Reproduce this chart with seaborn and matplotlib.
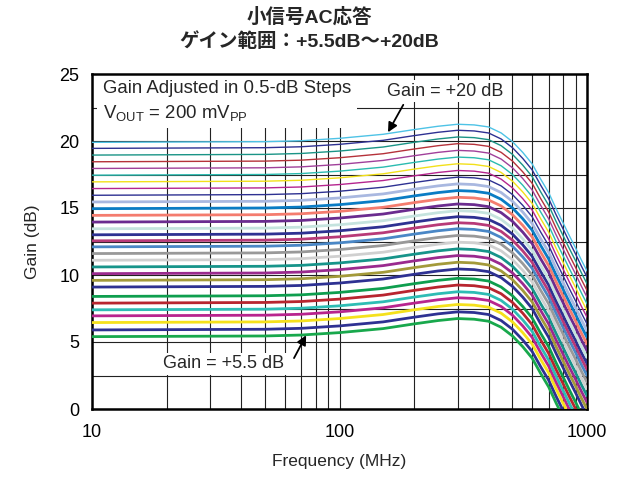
import matplotlib
matplotlib.use("Agg")
import matplotlib.pyplot as plt
import matplotlib.ticker as mticker
from matplotlib.patches import Rectangle
import seaborn as sns
import pandas as pd

# ---------------- data ----------------
freq_mhz = [10, 50, 70, 100, 150, 200, 250, 300, 350, 400, 450, 500, 550, 600,
            650, 700, 750, 800, 850, 900, 950, 1000]

g20_0 = [19.9, 19.95, 20.02, 20.2, 20.5, 20.85, 21.1, 21.25, 21.2, 21.05, 20.6, 19.95, 19.15, 18.3, 17.15, 16.15, 14.95, 13.9, 12.9, 12.0, 11.1, 10.3]
g19_5 = [19.45, 19.5, 19.57, 19.75, 20.05, 20.4, 20.65, 20.8, 20.75, 20.6, 20.15, 19.5, 18.7, 17.85, 16.7, 15.7, 14.5, 13.45, 12.45, 11.55, 10.65, 9.85]
g19_0 = [18.95, 19.0, 19.07, 19.25, 19.55, 19.9, 20.15, 20.3, 20.25, 20.1, 19.65, 19.0, 18.2, 17.35, 16.2, 15.2, 14.0, 12.95, 11.95, 11.05, 10.15, 9.35]
g18_5 = [18.45, 18.5, 18.57, 18.75, 19.05, 19.4, 19.65, 19.8, 19.75, 19.6, 19.15, 18.5, 17.7, 16.85, 15.7, 14.7, 13.5, 12.45, 11.45, 10.55, 9.65, 8.85]
g18_0 = [17.95, 18.0, 18.07, 18.25, 18.55, 18.9, 19.15, 19.3, 19.25, 19.1, 18.65, 18.0, 17.2, 16.35, 15.2, 14.2, 13.0, 11.95, 10.95, 10.05, 9.15, 8.35]
g17_5 = [17.45, 17.5, 17.57, 17.75, 18.05, 18.4, 18.65, 18.8, 18.75, 18.6, 18.15, 17.5, 16.7, 15.85, 14.7, 13.7, 12.5, 11.45, 10.45, 9.55, 8.65, 7.85]
g17_0 = [16.95, 17.0, 17.07, 17.25, 17.55, 17.9, 18.15, 18.3, 18.25, 18.1, 17.65, 17.0, 16.2, 15.35, 14.2, 13.2, 12.0, 10.95, 9.95, 9.05, 8.15, 7.35]
g16_5 = [16.45, 16.5, 16.57, 16.75, 17.05, 17.4, 17.65, 17.8, 17.75, 17.6, 17.15, 16.5, 15.7, 14.85, 13.7, 12.7, 11.5, 10.45, 9.45, 8.55, 7.65, 6.85]
g16_0 = [15.95, 16.0, 16.07, 16.25, 16.55, 16.9, 17.15, 17.3, 17.25, 17.1, 16.65, 16.0, 15.2, 14.35, 13.2, 12.2, 11.0, 9.95, 8.95, 8.05, 7.15, 6.35]
g15_5 = [15.45, 15.5, 15.57, 15.75, 16.05, 16.4, 16.65, 16.8, 16.75, 16.6, 16.15, 15.5, 14.7, 13.85, 12.7, 11.7, 10.5, 9.45, 8.45, 7.55, 6.65, 5.85]
g15_0 = [14.95, 15.0, 15.07, 15.25, 15.55, 15.9, 16.15, 16.3, 16.25, 16.1, 15.65, 15.0, 14.2, 13.35, 12.2, 11.2, 10.0, 8.95, 7.95, 7.05, 6.15, 5.35]
g14_5 = [14.45, 14.5, 14.57, 14.75, 15.05, 15.4, 15.65, 15.8, 15.75, 15.6, 15.15, 14.5, 13.7, 12.85, 11.7, 10.7, 9.5, 8.45, 7.45, 6.55, 5.65, 4.85]
g14_0 = [13.95, 14.0, 14.07, 14.25, 14.55, 14.9, 15.15, 15.3, 15.25, 15.1, 14.65, 14.0, 13.2, 12.35, 11.2, 10.2, 9.0, 7.95, 6.95, 6.05, 5.15, 4.35]
g13_5 = [13.45, 13.5, 13.57, 13.75, 14.05, 14.4, 14.65, 14.8, 14.75, 14.6, 14.15, 13.5, 12.7, 11.85, 10.7, 9.7, 8.5, 7.45, 6.45, 5.55, 4.65, 3.85]
g13_0 = [13.0, 13.05, 13.12, 13.3, 13.6, 13.95, 14.2, 14.35, 14.3, 14.15, 13.7, 13.05, 12.25, 11.4, 10.25, 9.25, 8.05, 7.0, 6.0, 5.1, 4.2, 3.4]
g12_5 = [12.55, 12.6, 12.67, 12.85, 13.15, 13.5, 13.75, 13.9, 13.85, 13.7, 13.25, 12.6, 11.8, 10.95, 9.8, 8.8, 7.6, 6.55, 5.55, 4.65, 3.75, 2.95]
g12_0 = [12.1, 12.15, 12.22, 12.4, 12.7, 13.05, 13.3, 13.45, 13.4, 13.25, 12.8, 12.15, 11.35, 10.5, 9.35, 8.35, 7.15, 6.1, 5.1, 4.2, 3.3, 2.5]
g11_5 = [11.6, 11.65, 11.72, 11.9, 12.2, 12.55, 12.8, 12.95, 12.9, 12.75, 12.3, 11.65, 10.85, 10.0, 8.85, 7.85, 6.65, 5.6, 4.6, 3.7, 2.8, 2.0]
g11_0 = [11.1, 11.15, 11.22, 11.4, 11.7, 12.05, 12.3, 12.45, 12.4, 12.25, 11.8, 11.15, 10.35, 9.5, 8.35, 7.35, 6.15, 5.1, 4.1, 3.2, 2.3, 1.5]
g10_5 = [10.6, 10.65, 10.72, 10.9, 11.2, 11.55, 11.8, 11.95, 11.9, 11.75, 11.3, 10.65, 9.85, 9.0, 7.85, 6.85, 5.65, 4.6, 3.6, 2.7, 1.8, 1.0]
g10_0 = [10.1, 10.15, 10.22, 10.4, 10.7, 11.05, 11.3, 11.45, 11.4, 11.25, 10.8, 10.15, 9.35, 8.5, 7.35, 6.35, 5.15, 4.1, 3.1, 2.2, 1.3, 0.5]
g9_5 = [9.6, 9.65, 9.72, 9.9, 10.2, 10.55, 10.8, 10.95, 10.9, 10.75, 10.3, 9.65, 8.85, 8.0, 6.85, 5.85, 4.65, 3.6, 2.6, 1.7, 0.8, 0.0]
g9_0 = [9.1, 9.15, 9.22, 9.4, 9.7, 10.05, 10.3, 10.45, 10.4, 10.25, 9.8, 9.15, 8.35, 7.5, 6.35, 5.35, 4.15, 3.1, 2.1, 1.2, 0.3, -0.5]
g8_5 = [8.4, 8.45, 8.52, 8.7, 9.0, 9.35, 9.6, 9.75, 9.7, 9.55, 9.1, 8.45, 7.65, 6.8, 5.65, 4.65, 3.45, 2.4, 1.4, 0.5, -0.4, -1.2]
g8_0 = [7.9, 7.95, 8.02, 8.2, 8.5, 8.85, 9.1, 9.25, 9.2, 9.05, 8.6, 7.95, 7.15, 6.3, 5.15, 4.15, 2.95, 1.9, 0.9, 0.0, -0.9, -1.7]
g7_5 = [7.4, 7.45, 7.52, 7.7, 8.0, 8.35, 8.6, 8.75, 8.7, 8.55, 8.1, 7.45, 6.65, 5.8, 4.65, 3.65, 2.45, 1.4, 0.4, -0.5, -1.4, -2.2]
g7_0 = [6.95, 7.0, 7.07, 7.25, 7.55, 7.9, 8.15, 8.3, 8.25, 8.1, 7.65, 7.0, 6.2, 5.35, 4.2, 3.2, 2.0, 0.95, -0.05, -0.95, -1.85, -2.65]
g6_5 = [6.45, 6.5, 6.57, 6.75, 7.05, 7.4, 7.65, 7.8, 7.75, 7.6, 7.15, 6.5, 5.7, 4.85, 3.7, 2.7, 1.5, 0.45, -0.55, -1.45, -2.35, -3.15]
g6_0 = [5.9, 5.95, 6.02, 6.2, 6.5, 6.85, 7.1, 7.25, 7.2, 7.05, 6.6, 5.95, 5.15, 4.3, 3.15, 2.15, 0.95, -0.1, -1.1, -2.0, -2.9, -3.7]
g5_5 = [5.4, 5.45, 5.52, 5.7, 6.0, 6.35, 6.6, 6.75, 6.7, 6.55, 6.1, 5.45, 4.65, 3.8, 2.65, 1.65, 0.45, -0.6, -1.6, -2.5, -3.4, -4.2]

gain_settings = ["+20", "+19.5", "+19", "+18.5", "+18", "+17.5", "+17", "+16.5",
                 "+16", "+15.5", "+15", "+14.5", "+14", "+13.5", "+13", "+12.5",
                 "+12", "+11.5", "+11", "+10.5", "+10", "+9.5", "+9", "+8.5",
                 "+8", "+7.5", "+7", "+6.5", "+6", "+5.5"]
curves = [g20_0, g19_5, g19_0, g18_5, g18_0, g17_5, g17_0, g16_5, g16_0, g15_5,
          g15_0, g14_5, g14_0, g13_5, g13_0, g12_5, g12_0, g11_5, g11_0, g10_5,
          g10_0, g9_5, g9_0, g8_5, g8_0, g7_5, g7_0, g6_5, g6_0, g5_5]

curve_colors = ["#4EC3E6", "#2E3192", "#1A9486", "#B5323A", "#A0409A", "#2BBBB0",
                "#F2E01A", "#B5258F", "#2E3192", "#A9B8E0", "#0A7CC4", "#F47C6E",
                "#6B2C8F", "#C5E3DE", "#2E3192", "#B83A78", "#4A87C6", "#999999",
                "#D0D0D0", "#17948A", "#9A2A8E", "#A39A3A", "#2E3192", "#0E9E4E",
                "#B8252F", "#2EBCB4", "#B8248E", "#F5E11C", "#2E3192", "#18A84C"]

x_ticks = [10, 100, 1000]
x_ticklabels = ["10", "100", "1000"]
y_ticks = [0, 5, 10, 15, 20, 25]

# ---------------- style ----------------
sns.set_theme(style="white")
plt.rcParams["font.family"] = ["Liberation Sans", "Noto Sans CJK JP", "DejaVu Sans"]
plt.rcParams["mathtext.fontset"] = "custom"
plt.rcParams["mathtext.rm"] = "Liberation Sans"
plt.rcParams["mathtext.it"] = "Liberation Sans"

fig = plt.figure(figsize=(6.18, 4.79), dpi=100)
ax = fig.add_axes([92 / 618, 70 / 479, 495 / 618, 335 / 479])

df = pd.concat([
    pd.DataFrame({"freq": freq_mhz, "gain_db": vals, "setting": name})
    for name, vals in zip(gain_settings, curves)
], ignore_index=True)

for i, (name, col) in enumerate(zip(gain_settings, curve_colors)):
    sub = df[df["setting"] == name]
    sns.lineplot(data=sub, x="freq", y="gain_db", ax=ax, color=col,
                 linewidth=1.0 if i < 9 else 2.0, legend=False,
                 zorder=3 + (30 - i) * 0.01, sort=True, estimator=None)

ax.set_xscale("log")
ax.set_xlim(10, 1000)
ax.set_ylim(0, 25)
ax.set_xticks(x_ticks)
ax.set_xticklabels(x_ticklabels)
ax.xaxis.set_minor_locator(mticker.LogLocator(base=10, subs=range(2, 10)))
ax.xaxis.set_minor_formatter(mticker.NullFormatter())
ax.set_yticks(y_ticks)
ax.yaxis.set_minor_locator(mticker.MultipleLocator(2.5))

ax.set_axisbelow(True)
ax.grid(True, which="both", axis="both", color="#222222", linewidth=0.8)
ax.tick_params(axis="both", which="both", direction="in", length=4, width=0.8,
               colors="black", labelsize=13)
ax.tick_params(axis="y", pad=9)
ax.tick_params(axis="x", pad=11)
for s in ax.spines.values():
    s.set_linewidth(1.8)
    s.set_color("black")

ax.set_xlabel("Frequency (MHz)", fontsize=12.5, labelpad=9)
ax.set_ylabel("Gain (dB)", fontsize=12.5, labelpad=14)

# white area behind the upper-left note
ax.add_patch(Rectangle((10.5, 21.0), 118 - 10.5, 4.0, facecolor="white",
                       edgecolor="none", zorder=1))
ax.text(11.1, 23.95, "Gain Adjusted in 0.5-dB Steps", fontsize=13.4, va="center",
        ha="left", zorder=6)
ax.text(11.1, 22.1, r"V$_{\mathrm{OUT}}$ = 200 mV$_{\mathrm{PP}}$", fontsize=13.4,
        va="center", ha="left", zorder=6)

box = dict(facecolor="white", edgecolor="none", pad=1.5)
ax.text(267, 23.73, "Gain = +20 dB", fontsize=13, ha="center", va="center",
        bbox=box, zorder=6)
ax.text(34.1, 3.36, "Gain = +5.5 dB", fontsize=13, ha="center", va="center",
        bbox=box, zorder=6)

arrow = dict(arrowstyle="-|>", color="black", lw=1.3, mutation_scale=14,
             shrinkA=0, shrinkB=0)
ax.annotate("", xy=(157, 20.65), xytext=(181, 22.7), arrowprops=arrow, zorder=7)
ax.annotate("", xy=(73.3, 5.5), xytext=(65.5, 3.8), arrowprops=arrow, zorder=7)

fig.text(0.5, 1 - 17 / 479, "小信号AC応答", ha="center", va="center",
         fontsize=14, fontweight="bold")
fig.text(0.5, 1 - 42 / 479, "ゲイン範囲：+5.5dB～+20dB", ha="center", va="center",
         fontsize=14, fontweight="bold")

fig.savefig("out.png", dpi=100)
